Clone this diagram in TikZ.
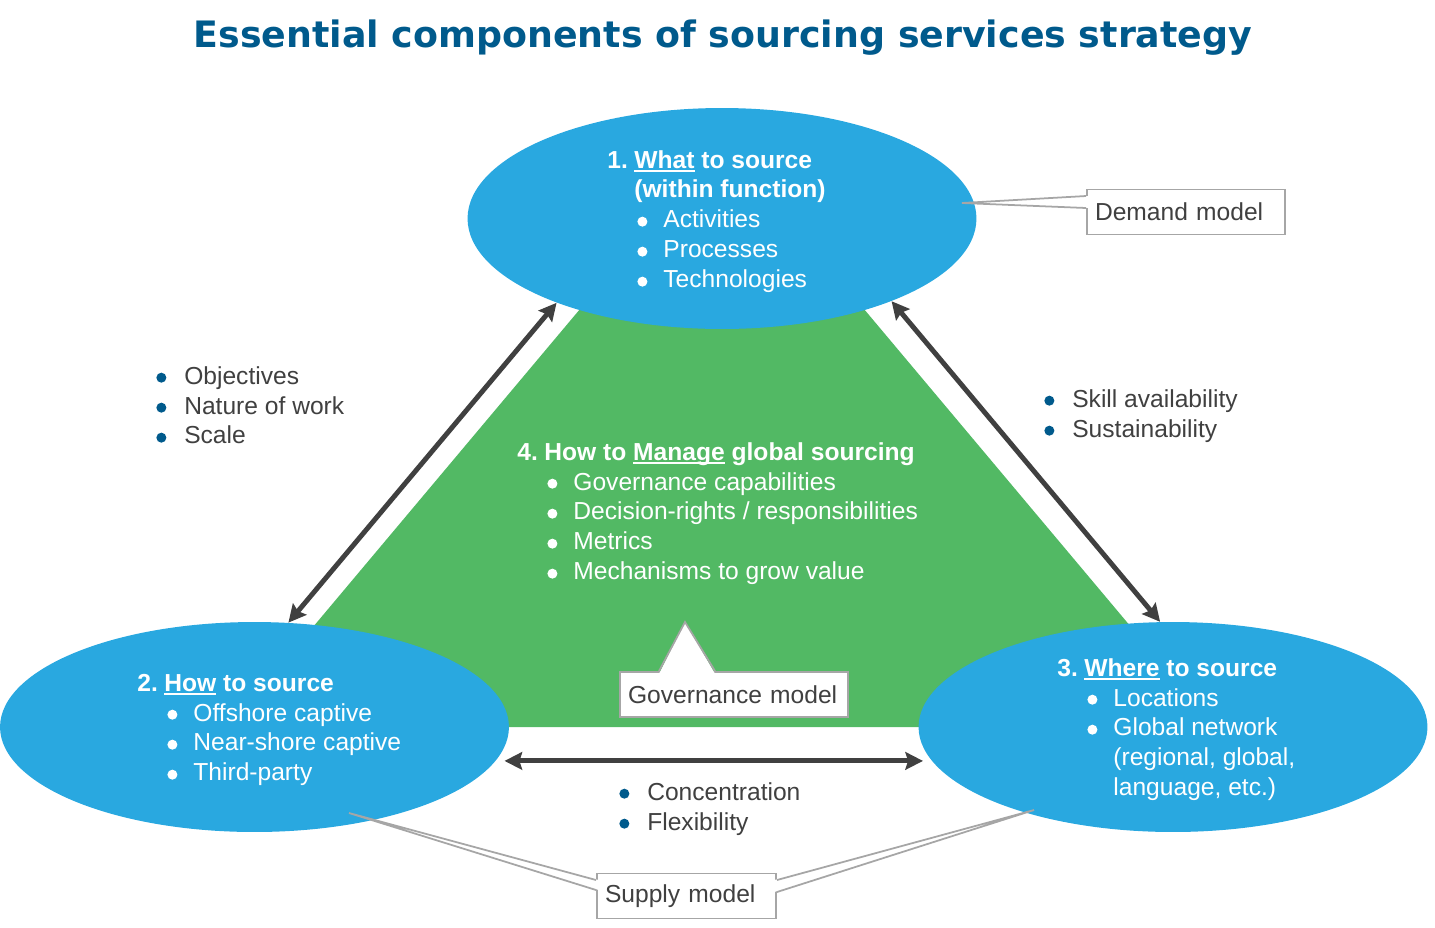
\documentclass[tikz,border=0pt]{standalone}
\usepackage{fontspec}
\setmainfont{Liberation Sans}
\newfontfamily\titlefont{DejaVu Sans}
\usepackage{tikz}
\usetikzlibrary{shapes.geometric,arrows.meta}

\definecolor{skyblue}{RGB}{41,168,224}
\definecolor{leafgreen}{RGB}{82,185,100}
\definecolor{navy}{RGB}{0,90,140}
\definecolor{darkgrey}{RGB}{64,64,64}
\definecolor{linegrey}{RGB}{166,166,166}

% bullet dot, heading with number, sub lines and items
\newcommand{\dotb}[1]{\tikz[baseline=0pt]\fill[#1] (0pt,3.6pt) circle[radius=2.85pt];}
\newcommand{\ul}[1]{\setbox0\hbox{#1}\rlap{\rule[-2.4pt]{\wd0}{1.1pt}}\box0\relax}
\newcommand{\hd}[2]{\textbf{\makebox[15.4pt][l]{#1}#2}}
\newcommand{\subhd}[1]{\textbf{\hspace*{15.4pt}#1}}
\newcommand{\itm}[1]{\hspace*{17.1pt}\dotb{white}\hspace*{9.1pt}#1}
\newcommand{\cont}[1]{\hspace*{31.9pt}#1}
\newcommand{\oitm}[1]{\dotb{navy}\hspace*{10.2pt}#1}

\begin{document}
\begin{tikzpicture}[x=0.02cm, y=-0.02cm,
    bubble/.style={ellipse, fill=skyblue, inner sep=0pt, minimum width=10.18cm},
    intext/.style={anchor=base west, inner sep=0pt, text=white, font=\fontsize{14}{17.07}\selectfont},
    outtext/.style={intext, text=darkgrey},
    link/.style={{Stealth[length=10pt,width=10pt,inset=1.5pt]}-{Stealth[length=10pt,width=10pt,inset=1.5pt]}, line width=2.8pt, darkgrey},
    modelbox/.style={draw=linegrey, line width=1.1pt, fill=white, text=darkgrey, align=left, inner xsep=0.16cm, minimum height=0.9cm, font=\fontsize{14}{17.07}\selectfont},
    pointer/.style={draw=linegrey, line width=1pt}]
\useasboundingbox (0,0) rectangle (1435,927);

\node[anchor=base, inner sep=0pt, text=navy, font=\titlefont\bfseries\fontsize{20.7}{24}\selectfont] (title) at (723,47) {Essential components of sourcing services strategy};

% green area behind the three ellipses
\fill[leafgreen] (722,140) -- (229,727) -- (1215,727) -- cycle;

\node[bubble, minimum height=4.42cm] (what) at (722,218.5) {};
\node[bubble, minimum height=4.2cm] (how) at (254.5,727) {};
\node[bubble, minimum height=4.2cm] (where) at (1173,727) {};

\node[intext] (whattxt) at (607,168) {\begin{tabular}[t]{@{}l@{}}
  \hd{1.}{\ul{What} to source}\\
  \subhd{(within function)}\\
  \itm{Activities}\\
  \itm{Processes}\\
  \itm{Technologies}
\end{tabular}};

\node[intext] (howtxt) at (137,691) {\begin{tabular}[t]{@{}l@{}}
  \hd{2.}{\ul{How} to source}\\
  \itm{Offshore captive}\\
  \itm{Near-shore captive}\\
  \itm{Third-party}
\end{tabular}};

\node[intext] (wheretxt) at (1057,676) {\begin{tabular}[t]{@{}l@{}}
  \hd{3.}{\ul{Where} to source}\\
  \itm{Locations}\\
  \itm{Global network}\\
  \cont{(regional, global,}\\
  \cont{language, etc.)}
\end{tabular}};

\node[intext] (managetxt) at (517,460) {\begin{tabular}[t]{@{}l@{}}
  \hd{4.}{How to \ul{Manage} global sourcing}\\
  \itm{Governance capabilities}\\
  \itm{Decision-rights / responsibilities}\\
  \itm{Metrics}\\
  \itm{Mechanisms to grow value}
\end{tabular}};

% arrows between the ellipses
\draw[link] (what.207.5) -- (how.72);
\draw[link] (what.-26.7) -- (where.97.8);
\draw[link, shorten <=5pt, shorten >=5pt] (how.-8) -- (where.188);

\node[outtext] (leftlist) at (156,384) {\begin{tabular}[t]{@{}l@{}}
  \oitm{Objectives}\\
  \oitm{Nature of work}\\
  \oitm{Scale}
\end{tabular}};
\node[outtext] (rightlist) at (1044,407) {\begin{tabular}[t]{@{}l@{}}
  \oitm{Skill availability}\\
  \oitm{Sustainability}
\end{tabular}};
\node[outtext] (bottomlist) at (619,800) {\begin{tabular}[t]{@{}l@{}}
  \oitm{Concentration}\\
  \oitm{Flexibility}
\end{tabular}};

% callout boxes
\node[modelbox, text width=3.64cm] (demand) at (1186,212) {Demand model};
\coordinate (demandtip) at (962,203);
\fill[white] (demandtip) -- ([xshift=1.5pt,yshift=0.32cm]demand.west) -- ([xshift=1.5pt,yshift=0.08cm]demand.west) -- cycle;
\draw[pointer] ([yshift=0.32cm]demand.west) -- (demandtip) -- ([yshift=0.08cm]demand.west);

\node[modelbox, text width=4.24cm] (governance) at (734,694.5) {Governance model};
\coordinate (governancetip) at (685,622);
\fill[white] (governancetip) -- ([xshift=-1.5cm,yshift=-1.5pt]governance.north) -- ([xshift=-0.38cm,yshift=-1.5pt]governance.north) -- cycle;
\draw[pointer] ([xshift=-1.5cm]governance.north) -- (governancetip) -- ([xshift=-0.38cm]governance.north);

\node[modelbox, text width=3.26cm] (supply) at (686.5,896) {Supply model};
\coordinate (supplytipl) at (349,813);
\coordinate (supplytipr) at (1034,810);
\fill[white] (supplytipl) -- ([xshift=1.5pt,yshift=0.32cm]supply.west) -- ([xshift=1.5pt,yshift=0.12cm]supply.west) -- cycle;
\draw[pointer] ([yshift=0.32cm]supply.west) -- (supplytipl) -- ([yshift=0.12cm]supply.west);
\fill[white] (supplytipr) -- ([xshift=-1.5pt,yshift=0.32cm]supply.east) -- ([xshift=-1.5pt,yshift=0.08cm]supply.east) -- cycle;
\draw[pointer] ([yshift=0.32cm]supply.east) -- (supplytipr) -- ([yshift=0.08cm]supply.east);
\end{tikzpicture}
\end{document}
